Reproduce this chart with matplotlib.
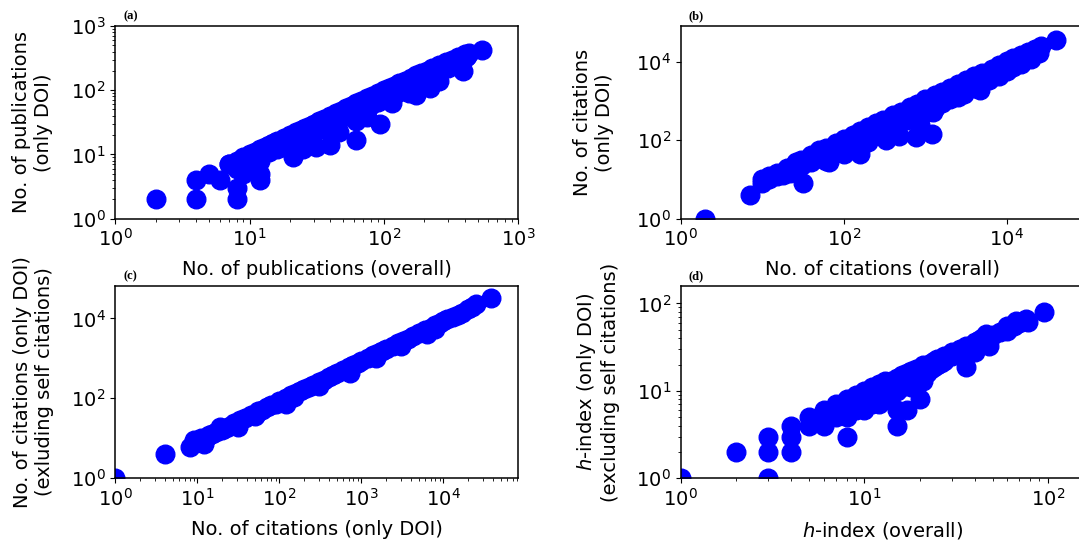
import matplotlib
matplotlib.use("Agg")
import matplotlib.pyplot as plt
from matplotlib import ticker

# (a) publications: overall vs only DOI
pub_all = [2, 4, 4, 5, 6, 8, 8, 7, 9, 12, 12, 11, 21, 25, 31, 40, 46, 62, 62, 75, 94, 116, 175, 155, 222, 258, 390, 412,
           7, 8, 9, 10, 11, 12, 13, 14, 15, 16, 18, 20, 22, 24, 26, 28, 30, 33, 36, 40, 44, 48, 52, 57, 62, 68, 75, 82,
           90, 100, 110, 120, 130, 145, 160, 175, 190, 210, 230, 260, 290, 320, 360, 400, 430, 540,
           8, 9, 10, 11, 12, 12, 14, 16, 18, 20, 22, 25, 28, 30, 35, 40, 45, 50, 55, 60, 70, 80, 90, 100, 110, 125,
           140, 160, 180, 200, 230, 260, 300, 350, 380,
           15, 17, 19, 23, 27, 32, 38, 42, 48, 54, 65, 72, 85, 95, 105, 135, 150, 170, 195, 240, 280, 330, 420]
pub_doi = [2, 2, 4, 5, 4, 2, 3, 7, 5, 4, 5, 6, 9, 12, 13, 14, 22, 17, 33, 38, 30, 62, 85, 90, 108, 138, 200, 326,
           7, 8, 9, 10, 11, 12, 13, 14, 15, 16, 18, 20, 22, 24, 26, 28, 30, 33, 36, 40, 44, 48, 52, 57, 62, 68, 75, 82,
           90, 100, 110, 118, 128, 140, 155, 170, 185, 200, 220, 245, 270, 300, 330, 360, 380, 420,
           6, 7, 8, 9, 8, 10, 11, 12, 13, 15, 16, 18, 20, 22, 25, 28, 33, 38, 40, 45, 50, 58, 65, 72, 80, 90,
           100, 115, 130, 145, 165, 190, 220, 260, 300,
           13, 14, 15, 18, 21, 24, 30, 34, 40, 44, 55, 60, 70, 80, 88, 115, 125, 145, 165, 200, 235, 280, 340]

# (b) citations: overall vs only DOI
cit_all = [2, 7, 10, 32, 26, 37, 61, 65, 100, 160, 200, 330, 473, 760, 850, 1200, 1260, 2500, 4700,
           10, 12, 15, 20, 25, 30, 40, 50, 60, 80, 100, 130, 160, 200, 250, 300, 400, 500, 650, 800, 1000, 1300,
           1600, 2000, 2500, 3200, 4000, 5000, 6500, 8000, 10000, 12000, 15000, 18000, 22000, 26000, 40000,
           12, 15, 18, 22, 25, 30, 40, 50, 60, 70, 90, 110, 140, 180, 220, 280, 350, 450, 500, 600, 800, 1000,
           1300, 1600, 2000, 3000, 4000, 6000, 8000, 10000, 12000, 15000, 20000, 25000,
           35, 45, 75, 120, 150, 240, 320, 420, 550, 700, 900, 1100, 1450, 1800, 2300, 2800, 3600, 4500,
           5500, 7000, 9000, 11000, 14000, 17000]
cit_doi = [1, 4, 8, 8, 28, 35, 29, 28, 45, 45, 90, 100, 129, 124, 251, 142, 537, 1260, 1900,
           10, 12, 15, 20, 25, 32, 42, 55, 65, 85, 110, 140, 175, 220, 270, 330, 430, 540, 700, 860, 1100, 1400,
           1750, 2200, 2700, 3400, 4300, 5300, 6800, 8500, 10500, 12500, 15500, 18000, 21000, 25000, 36000,
           10, 12, 13, 15, 20, 22, 28, 35, 45, 40, 55, 65, 80, 100, 120, 150, 190, 250, 300, 320, 420, 500,
           650, 900, 1100, 1500, 2200, 3500, 4500, 6000, 7500, 9000, 12000, 17000,
           28, 36, 55, 85, 105, 170, 220, 280, 380, 450, 600, 750, 950, 1200, 1500, 1900, 2500, 3000,
           3800, 5000, 6500, 8000, 10000, 13000]

# (c) citations only DOI vs excluding self citations
cdoi = [1, 4, 8, 9, 10, 11, 12, 13, 14, 15, 17, 19, 20, 22, 25, 28, 31, 33, 38, 45, 50, 53, 55, 62, 70, 80, 90,
        100, 120, 120, 140, 150, 160, 180, 200, 230, 260, 300, 300, 350, 400, 450, 500, 600, 720, 700, 800, 900,
        1000, 1200, 1400, 1500, 1600, 1800, 2000, 2400, 2800, 3000, 3200, 3700, 4200, 5000, 6000, 6300, 7000,
        8000, 8000, 9000, 10000, 11000, 13000, 15000, 17000, 20000, 22000, 24700, 38000]
cdoi_noself = [1, 4, 6, 9, 8, 10, 7, 11, 12, 13, 14, 19, 16, 18, 20, 24, 19, 28, 32, 38, 36, 43, 48, 52, 60, 68, 74,
               85, 74, 100, 120, 110, 135, 150, 170, 195, 220, 250, 200, 290, 340, 380, 420, 500, 420, 600, 680, 760,
               850, 1000, 1200, 1000, 1350, 1500, 1700, 2000, 2400, 2000, 2700, 3100, 3600, 4200, 5000, 4100, 5900,
               6800, 5500, 7600, 8500, 9500, 11000, 12500, 14000, 17000, 19000, 23500, 31600]

# (d) h-index overall vs only DOI excluding self citations
h_all = [1, 2, 3, 3, 3, 4, 4, 4, 5, 5, 6, 6, 6, 7, 7, 7, 8, 8, 8, 8, 8, 9, 9, 9, 9, 10, 10, 10, 10, 10,
         11, 11, 11, 11, 11, 12, 12, 12, 12, 12, 13, 13, 13, 13, 14, 14, 14, 15, 15, 15, 15, 15, 16, 16, 16,
         17, 17, 17, 17, 18, 18, 18, 19, 19, 20, 20, 20, 21, 21, 21, 22, 22, 23, 23, 24, 24, 25, 25, 26, 27,
         27, 28, 29, 30, 30, 32, 33, 35, 36, 36, 38, 40, 40, 42, 44, 46, 48, 48, 50, 55, 60, 60, 65, 67, 70,
         76, 78, 95]
h_doi = [1, 2, 1, 2, 3, 2, 3, 4, 4, 5, 4, 5, 6, 5, 6, 7, 3, 5, 6, 7, 8, 6, 7, 8, 9, 6, 7, 8, 9, 10,
         7, 8, 9, 10, 11, 7, 9, 10, 11, 12, 8, 10, 12, 13, 9, 11, 13, 4, 6, 10, 12, 14, 11, 13, 15,
         6, 12, 14, 16, 11, 15, 17, 14, 18, 8, 15, 18, 13, 17, 20, 16, 19, 18, 21, 19, 22, 20, 23, 21, 22,
         25, 24, 26, 25, 28, 27, 30, 30, 19, 33, 32, 28, 36, 38, 40, 45, 33, 42, 44, 47, 49, 55, 55, 63, 60,
         66, 62, 80]

panels = [
    (pub_all, pub_doi, "No. of publications (overall)", "No. of publications\n(only DOI)", "(a)",
     (1, 1000), (1, 1000), False, False),
    (cit_all, cit_doi, "No. of citations (overall)", "No. of citations\n(only DOI)", "(b)",
     (1, 8.7e4), (1, 8.3e4), True, True),
    (cdoi, cdoi_noself, "No. of citations (only DOI)", "No. of citations (only DOI)\n(exluding self citations)", "(c)",
     (1, 8.1e4), (1, 6.6e4), False, True),
    (h_all, h_doi, "$h$-index (overall)", "$h$-index (only DOI)\n(excluding self citations)", "(d)",
     (1, 156), (1, 160), False, False),
]

fig = plt.figure(figsize=(10.79, 5.41), dpi=100)
boxes = [[0.107, 0.596, 0.373, 0.356], [0.631, 0.596, 0.373, 0.356],
         [0.107, 0.116, 0.373, 0.356], [0.631, 0.116, 0.373, 0.356]]
ypads = [13, 16, 12, 12]

for box, ypad, (x, y, xl, yl, tag, xlim, ylim, xskip, yskip) in zip(boxes, ypads, panels):
    ax = fig.add_axes(box)
    ax.scatter(x, y, s=180, color="blue")
    ax.set_xscale("log")
    ax.set_yscale("log")
    ax.set_xlim(*xlim)
    ax.set_ylim(*ylim)
    # every second decade only, no minor ticks
    if xskip:
        ax.xaxis.set_major_locator(ticker.LogLocator(base=100.0))
        ax.xaxis.set_minor_locator(ticker.NullLocator())
    if yskip:
        ax.yaxis.set_major_locator(ticker.LogLocator(base=100.0))
        ax.yaxis.set_minor_locator(ticker.NullLocator())
    ax.set_xlabel(xl, fontsize=14, labelpad=7)
    ax.set_ylabel(yl, fontsize=14, labelpad=ypad)
    ax.tick_params(labelsize=14)
    for sp in ax.spines.values():
        sp.set_linewidth(1.1)
    ax.text(0.02, 1.02, tag, transform=ax.transAxes, fontsize=9, fontweight="bold",
            family="Liberation Serif", va="bottom")

fig.savefig("out.png", dpi=100)
